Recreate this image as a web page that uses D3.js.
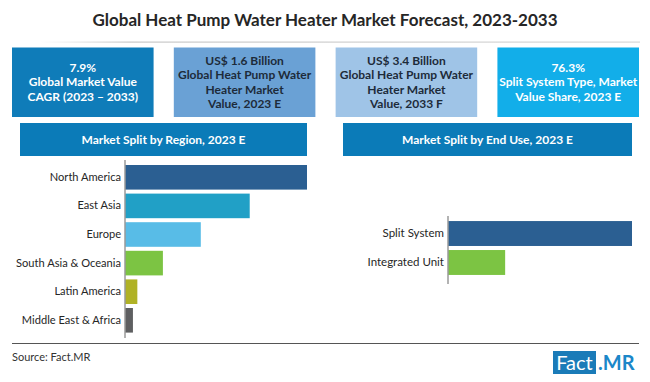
<!DOCTYPE html>
<html>
<head>
<meta charset="utf-8">
<script src="https://cdn.jsdelivr.net/npm/d3@7"></script>
<style>
  html, body { margin: 0; padding: 0; background: #ffffff; }
  svg { display: block; font-family: Lato, "Open Sans", sans-serif; }
</style>
</head>
<body>
<svg id="chart" width="650" height="382"></svg>
<script>
// ---- data ----
const titleText = "Global Heat Pump Water Heater Market Forecast, 2023-2033";
const kpiLines = [
  ["7.9%", "Global Market Value", "CAGR (2023 \u2013 2033)"],
  ["US$ 1.6 Billion", "Global Heat Pump Water", "Heater Market", "Value, 2023 E"],
  ["US$ 3.4 Billion", "Global Heat Pump Water", "Heater Market", "Value, 2033 F"],
  ["76.3%", "Split System Type, Market", "Value Share, 2023 E"]
];
const kpiColors = ["#0f7cb9", "#6aa1d5", "#9fc4e7", "#12aee9"];
const kpiTextColors = ["#ffffff", "#1d2b3a", "#1d2b3a", "#ffffff"];

const regionTitle = "Market Split by Region, 2023 E";
const regions = ["North America", "East Asia", "Europe", "South Asia & Oceania", "Latin America", "Middle East & Africa"];
const regionShare = [41.3, 28.3, 17.2, 8.6, 2.8, 1.8];
const regionColors = ["#2b5f92", "#21a0c6", "#58bce7", "#7cc443", "#b0b225", "#5e5f61"];

const endUseTitle = "Market Split by End Use, 2023 E";
const endUses = ["Split System", "Integrated Unit"];
const endUseShare = [76.3, 23.7];
const endUseColors = ["#2b5f92", "#7cc443"];

const sourceText = "Source: Fact.MR";

// ---- drawing ----
const svg = d3.select("#chart");

// title
svg.append("text")
  .attr("x", 325).attr("y", 26)
  .attr("text-anchor", "middle")
  .attr("font-size", 17).attr("font-weight", 700)
  .attr("fill", "#262626")
  .text(titleText);

const defs = svg.append("defs");
const grad = defs.append("linearGradient").attr("id", "tl").attr("x1", "0").attr("x2", "1");
grad.append("stop").attr("offset", "0").attr("stop-color", "#d0d0d0").attr("stop-opacity", 0);
grad.append("stop").attr("offset", "0.15").attr("stop-color", "#c8c8c8").attr("stop-opacity", 1);
grad.append("stop").attr("offset", "1").attr("stop-color", "#d8d8d8").attr("stop-opacity", 1);
svg.append("rect").attr("x", 40).attr("y", 41.5).attr("width", 600).attr("height", 1.2).attr("fill", "url(#tl)");

// KPI boxes
const kpiX = d3.scaleBand().domain(d3.range(kpiLines.length)).range([12, 639]).paddingInner(0.125);
const kpiTop = 47.5, kpiH = 69.5, lineH = 14.6;
kpiLines.forEach((lines, i) => {
  const g = svg.append("g");
  g.append("rect")
    .attr("x", kpiX(i)).attr("y", kpiTop)
    .attr("width", kpiX.bandwidth()).attr("height", kpiH)
    .attr("fill", kpiColors[i]);
  const cy = kpiTop + kpiH / 2;
  const t = g.append("text")
    .attr("text-anchor", "middle")
    .attr("font-size", 12).attr("font-weight", 700)
    .attr("fill", kpiTextColors[i]);
  lines.forEach((ln, j) => {
    t.append("tspan")
      .attr("x", kpiX(i) + kpiX.bandwidth() / 2)
      .attr("y", cy + (j - (lines.length - 1) / 2) * lineH)
      .attr("dy", "0.35em")
      .text(ln);
  });
});

// section header
function header(x0, x1, text) {
  svg.append("rect").attr("x", x0).attr("y", 123).attr("width", x1 - x0).attr("height", 33).attr("fill", "#0b7bb8");
  svg.append("text").attr("x", (x0 + x1) / 2).attr("y", 139.5).attr("dy", "0.35em")
    .attr("text-anchor", "middle").attr("font-size", 12).attr("font-weight", 700)
    .attr("fill", "#ffffff").text(text);
}
header(20, 307, regionTitle);
header(343, 632, endUseTitle);

function barChart(cats, vals, colors, xr, yr, axisY, fs) {
  const x = d3.scaleLinear().domain([0, d3.max(vals)]).range(xr);
  const y = d3.scaleBand().domain(cats).range(yr).padding(0.14);
  const g = svg.append("g");
  g.selectAll("rect.bar").data(cats).join("rect")
    .attr("class", "bar")
    .attr("x", x(0)).attr("y", d => y(d))
    .attr("width", (d, i) => x(vals[i]) - x(0))
    .attr("height", y.bandwidth())
    .attr("fill", (d, i) => colors[i]);
  const ax = d3.axisLeft(y).tickSize(0).tickPadding(4);
  const axg = g.append("g").attr("transform", `translate(${x(0)},0)`).call(ax);
  axg.select(".domain").remove();
  axg.selectAll("text").attr("font-size", fs).attr("fill", "#262626").attr("font-family", "Lato, 'Open Sans', sans-serif");
  g.append("line").attr("x1", x(0)).attr("x2", x(0)).attr("y1", axisY[0]).attr("y2", axisY[1])
    .attr("stroke", "#9a9a9a").attr("stroke-width", 1.5);
}
barChart(regions, regionShare, regionColors, [125, 307], [161, 336.6], [160, 338], 11.1);
barChart(endUses, endUseShare, endUseColors, [448, 632], [217, 279], [216, 284], 11.5);

// footer
svg.append("line").attr("x1", 12).attr("x2", 639).attr("y1", 343.5).attr("y2", 343.5).attr("stroke", "#555555").attr("stroke-width", 1);
svg.append("text").attr("x", 12).attr("y", 357).attr("dy", "0.35em").attr("font-size", 11).attr("fill", "#333333").text(sourceText);

// logo
svg.append("rect").attr("x", 553).attr("y", 351).attr("width", 43).attr("height", 23).attr("fill", "#1a7bb8");
svg.append("text").attr("x", 574.5).attr("y", 362.5).attr("dy", "0.36em").attr("text-anchor", "middle")
  .attr("font-size", 20).attr("fill", "#ffffff").text("Fact");
svg.append("text").attr("x", 598).attr("y", 362.5).attr("dy", "0.36em")
  .attr("font-size", 20).attr("font-weight", 700).attr("fill", "#1b87c9").text(".MR");
</script>
</body>
</html>
